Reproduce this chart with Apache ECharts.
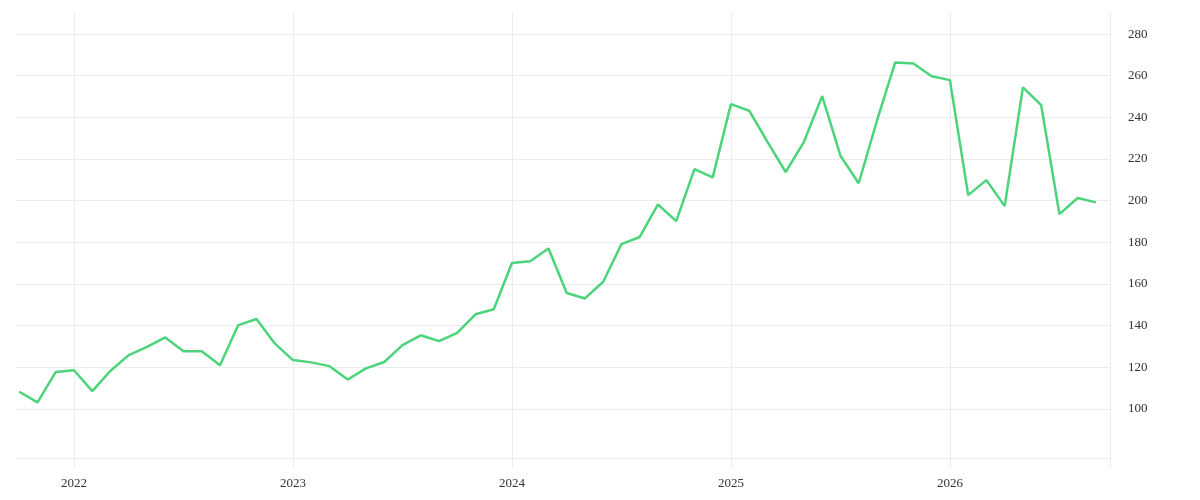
<!DOCTYPE html>
<html>
<head>
<meta charset="utf-8">
<script src="https://cdn.jsdelivr.net/npm/echarts@6/dist/echarts.min.js"></script>
<style>
  html, body { margin: 0; padding: 0; background: #fff; }
  #chart { width: 1200px; height: 500px; }
</style>
</head>
<body>
<div id="chart"></div>
<script>
// monthly points, Oct 2021 .. Sep 2026
var months = [
  '2021-10', '2021-11', '2021-12',
  '2022-01', '2022-02', '2022-03', '2022-04', '2022-05', '2022-06', '2022-07', '2022-08', '2022-09', '2022-10', '2022-11', '2022-12',
  '2023-01', '2023-02', '2023-03', '2023-04', '2023-05', '2023-06', '2023-07', '2023-08', '2023-09', '2023-10', '2023-11', '2023-12',
  '2024-01', '2024-02', '2024-03', '2024-04', '2024-05', '2024-06', '2024-07', '2024-08', '2024-09', '2024-10', '2024-11', '2024-12',
  '2025-01', '2025-02', '2025-03', '2025-04', '2025-05', '2025-06', '2025-07', '2025-08', '2025-09', '2025-10', '2025-11', '2025-12',
  '2026-01', '2026-02', '2026-03', '2026-04', '2026-05', '2026-06', '2026-07', '2026-08', '2026-09'
];
var values = [
  108.3, 103.2, 117.8,
  118.6, 108.6, 118.4, 125.9, 129.8, 134.4, 127.7, 127.7, 121.0, 140.3, 143.2, 131.5,
  123.5, 122.4, 120.6, 114.2, 119.5, 122.6, 130.7, 135.4, 132.6, 136.6, 145.5, 147.9,
  170.1, 170.9, 177.1, 155.7, 153.1, 161.1, 179.2, 182.6, 198.2, 190.2, 215.2, 211.2,
  246.4, 243.2, 228.3, 213.8, 228.3, 250.2, 221.6, 208.4, 238.4, 266.4, 265.9, 259.8,
  257.9, 202.7, 209.9, 197.4, 254.4, 245.9, 193.6, 201.3, 199.2
];
var yearTicks = [2022, 2023, 2024, 2025, 2026];
var yTicks = [100, 120, 140, 160, 180, 200, 220, 240, 260, 280];
var baseLine = 76.5;

var lineColor = '#4cd47b';
var gridColor = '#ececec';
var labelFont = 'Liberation Serif';

function toYear(m) {
  var p = m.split('-');
  return Number(p[0]) + (Number(p[1]) - 1) / 12;
}

var points = months.map(function (m, i) { return [toYear(m), values[i]]; });

var option = {
  backgroundColor: '#fff',
  animation: false,
  grid: { left: 16, right: 90, top: 12, bottom: 32 },
  xAxis: {
    type: 'value',
    min: 2021.735,
    max: 2026.731,
    axisLine: { show: false },
    axisTick: { show: false, customValues: yearTicks },
    splitLine: { show: true, lineStyle: { color: gridColor, width: 1 } },
    axisLabel: {
      customValues: yearTicks,
      margin: 9,
      color: '#333',
      fontFamily: labelFont,
      fontSize: 13,
      formatter: function (v) { return String(Math.round(v)); }
    }
  },
  yAxis: {
    type: 'value',
    position: 'right',
    min: 71.7,
    max: 290.6,
    axisLine: { show: true, lineStyle: { color: gridColor, width: 1 } },
    axisTick: { show: false, customValues: [baseLine].concat(yTicks) },
    splitLine: { show: true, lineStyle: { color: gridColor, width: 1 } },
    axisLabel: {
      customValues: yTicks,
      margin: 18,
      color: '#333',
      fontFamily: labelFont,
      fontSize: 13
    }
  },
  series: [{
    type: 'line',
    data: points,
    showSymbol: false,
    lineStyle: { color: lineColor, width: 2.5 },
    itemStyle: { color: lineColor }
  }]
};

var chart = echarts.init(document.getElementById('chart'));
chart.setOption(option);
</script>
</body>
</html>
